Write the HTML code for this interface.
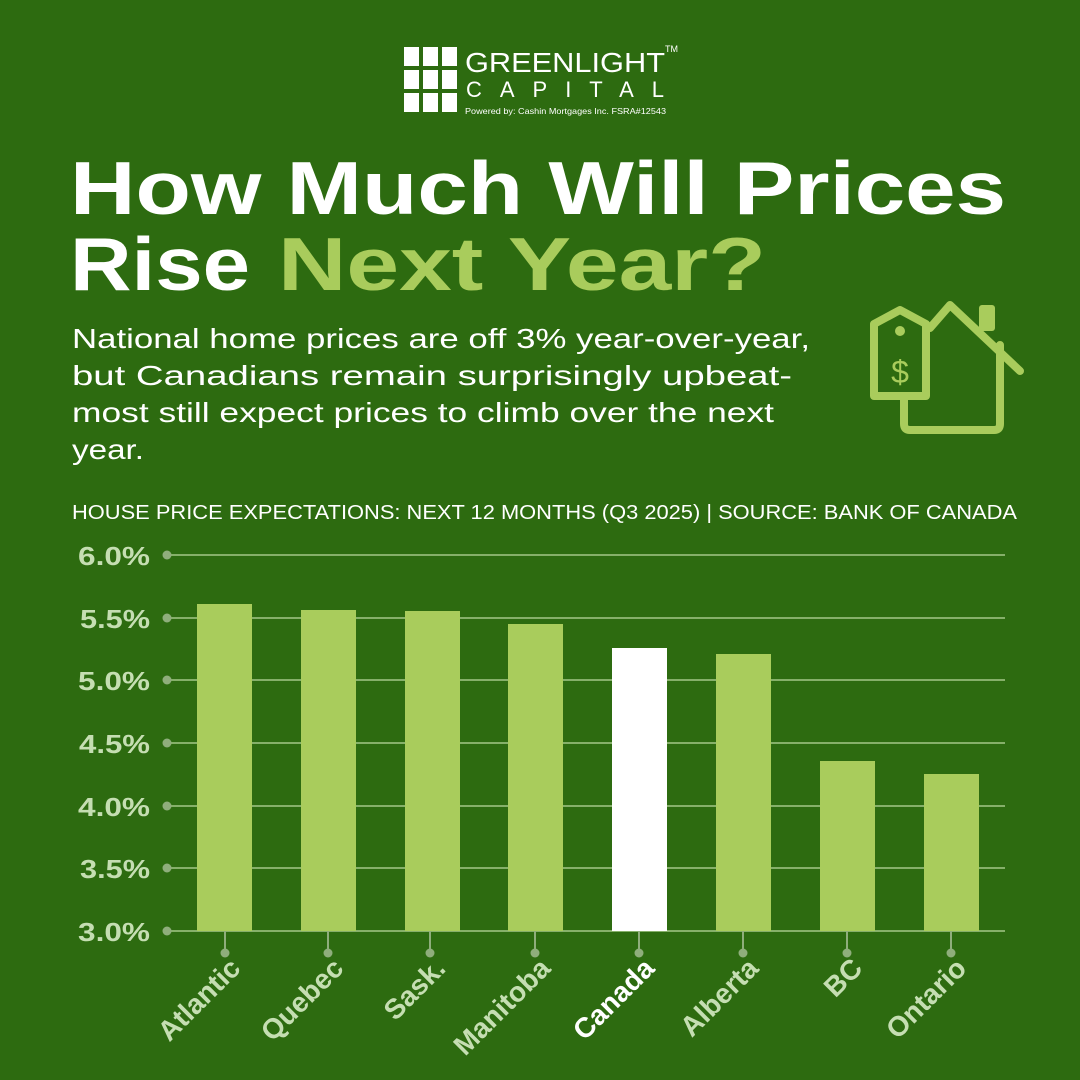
<!DOCTYPE html>
<html><head><meta charset="utf-8"><style>
html,body{margin:0;padding:0;background:#2d6b10;}
svg{display:block}
text{font-family:"Liberation Sans",sans-serif}
</style></head><body>
<svg width="1080" height="1080" viewBox="0 0 1080 1080" xmlns="http://www.w3.org/2000/svg">
<rect width="1080" height="1080" fill="#2d6b10"/>
<!-- logo -->
<g fill="#ffffff">
<rect x="404" y="47" width="15" height="19"/><rect x="423" y="47" width="15" height="19"/><rect x="442" y="47" width="15" height="19"/>
<rect x="404" y="70" width="15" height="19"/><rect x="423" y="70" width="15" height="19"/><rect x="442" y="70" width="15" height="19"/>
<rect x="404" y="93" width="15" height="19"/><rect x="423" y="93" width="15" height="19"/><rect x="442" y="93" width="15" height="19"/>
</g>
<text x="465" y="72" font-size="28" fill="#fff" textLength="200" lengthAdjust="spacingAndGlyphs">GREENLIGHT</text>
<text x="665" y="52" font-size="9" fill="#fff">TM</text>
<text x="466" y="97" font-size="22" fill="#fff" textLength="198" lengthAdjust="spacing">CAPITAL</text>
<text x="465" y="114" font-size="8.5" fill="#fff" textLength="201" lengthAdjust="spacingAndGlyphs">Powered by:  Cashin Mortgages Inc.  FSRA#12543</text>
<!-- title -->
<text x="70" y="214" font-size="75" font-weight="bold" fill="#fff" textLength="936" lengthAdjust="spacingAndGlyphs">How Much Will Prices</text>
<text x="70" y="290" font-size="75" font-weight="bold" fill="#fff" textLength="180" lengthAdjust="spacingAndGlyphs">Rise</text>
<text x="278" y="290" font-size="75" font-weight="bold" fill="#a9cc5c" textLength="488" lengthAdjust="spacingAndGlyphs">Next Year?</text>
<!-- body -->
<g font-size="28" fill="#fff">
<text x="72" y="348" textLength="738" lengthAdjust="spacingAndGlyphs">National home prices are off 3% year-over-year,</text>
<text x="72" y="385" textLength="720" lengthAdjust="spacingAndGlyphs">but Canadians remain surprisingly upbeat-</text>
<text x="72" y="422" textLength="702" lengthAdjust="spacingAndGlyphs">most still expect prices to climb over the next</text>
<text x="72" y="459" textLength="72" lengthAdjust="spacingAndGlyphs">year.</text>
</g>
<text x="72" y="519" font-size="20" fill="#fff" textLength="945" lengthAdjust="spacingAndGlyphs">HOUSE PRICE EXPECTATIONS: NEXT 12 MONTHS (Q3 2025) | SOURCE: BANK OF CANADA</text>
<!-- icon -->
<g fill="none" stroke="#a9cc5c" stroke-width="8" stroke-linejoin="round" stroke-linecap="round">
<path d="M930 328 L950 305 L1020 371"/>
<path d="M1000 345 L1000 424 Q1000 430 994 430 L910 430 Q904 430 904 424 L904 400"/>
<path d="M874 324 L900 310 L926 324 L926 396 L874 396 Z"/>
</g>
<rect x="979" y="305" width="16" height="26" rx="3" fill="#a9cc5c"/>
<circle cx="900" cy="331" r="5" fill="#a9cc5c"/>
<text x="900" y="383" font-size="32" fill="#a9cc5c" text-anchor="middle">$</text>
<!-- grid -->
<g stroke="#86b06a" stroke-width="2">
<line x1="167" y1="555" x2="1005" y2="555"/><line x1="167" y1="618" x2="1005" y2="618"/>
<line x1="167" y1="680" x2="1005" y2="680"/><line x1="167" y1="743" x2="1005" y2="743"/>
<line x1="167" y1="806" x2="1005" y2="806"/><line x1="167" y1="868" x2="1005" y2="868"/>
<line x1="167" y1="931" x2="1005" y2="931"/>
</g>
<g fill="#8fae7c">
<circle cx="167" cy="555" r="4.5"/><circle cx="167" cy="618" r="4.5"/><circle cx="167" cy="680" r="4.5"/>
<circle cx="167" cy="743" r="4.5"/><circle cx="167" cy="806" r="4.5"/><circle cx="167" cy="868" r="4.5"/><circle cx="167" cy="931" r="4.5"/>
</g>
<g font-size="26" font-weight="bold" fill="#c5deb2">
<text x="78" y="565" textLength="72" lengthAdjust="spacingAndGlyphs">6.0%</text>
<text x="80" y="628" textLength="70" lengthAdjust="spacingAndGlyphs">5.5%</text>
<text x="78" y="690" textLength="72" lengthAdjust="spacingAndGlyphs">5.0%</text>
<text x="79" y="753" textLength="71" lengthAdjust="spacingAndGlyphs">4.5%</text>
<text x="78" y="816" textLength="72" lengthAdjust="spacingAndGlyphs">4.0%</text>
<text x="80" y="878" textLength="70" lengthAdjust="spacingAndGlyphs">3.5%</text>
<text x="78" y="941" textLength="72" lengthAdjust="spacingAndGlyphs">3.0%</text>
</g>
<!-- bars -->
<g fill="#a9cc5c">
<rect x="197" y="604" width="55" height="327"/>
<rect x="301" y="610" width="55" height="321"/>
<rect x="405" y="611" width="55" height="320"/>
<rect x="508" y="624" width="55" height="307"/>
<rect x="716" y="654" width="55" height="277"/>
<rect x="820" y="761" width="55" height="170"/>
<rect x="924" y="774" width="55" height="157"/>
</g>
<rect x="612" y="648" width="55" height="283" fill="#fff"/>
<!-- x ticks -->
<g stroke="#8fae7c" stroke-width="2">
<line x1="225" y1="931" x2="225" y2="952"/><line x1="328" y1="931" x2="328" y2="952"/>
<line x1="430" y1="931" x2="430" y2="952"/><line x1="535" y1="931" x2="535" y2="952"/>
<line x1="639" y1="931" x2="639" y2="952"/><line x1="743" y1="931" x2="743" y2="952"/>
<line x1="847" y1="931" x2="847" y2="952"/><line x1="951" y1="931" x2="951" y2="952"/>
</g>
<g fill="#8fae7c">
<circle cx="225" cy="953" r="4.5"/><circle cx="328" cy="953" r="4.5"/><circle cx="430" cy="953" r="4.5"/><circle cx="535" cy="953" r="4.5"/>
<circle cx="639" cy="953" r="4.5"/><circle cx="743" cy="953" r="4.5"/><circle cx="847" cy="953" r="4.5"/><circle cx="951" cy="953" r="4.5"/>
</g>
<g font-size="28" font-weight="bold" fill="#c5deb2" text-anchor="end">
<text transform="translate(242,970) rotate(-45)">Atlantic</text>
<text transform="translate(345,970) rotate(-45)">Quebec</text>
<text transform="translate(447,970) rotate(-45)">Sask.</text>
<text transform="translate(552,970) rotate(-45)">Manitoba</text>
<text transform="translate(656,970) rotate(-45)" fill="#fff">Canada</text>
<text transform="translate(760,970) rotate(-45)">Alberta</text>
<text transform="translate(864,970) rotate(-45)">BC</text>
<text transform="translate(968,970) rotate(-45)">Ontario</text>
</g>
</svg>
</body></html>
